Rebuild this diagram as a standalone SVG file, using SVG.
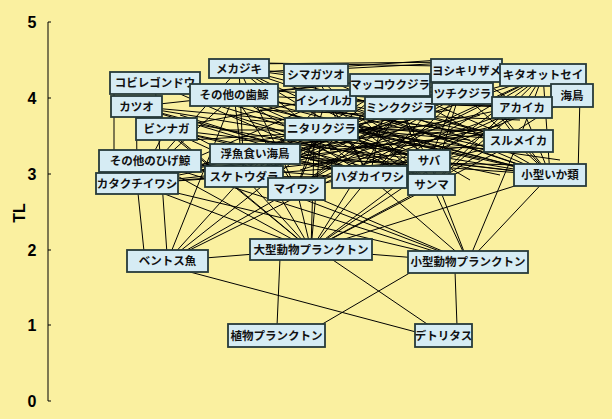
<svg xmlns="http://www.w3.org/2000/svg" width="612" height="419" viewBox="0 0 612 419">
<style>
.bg{fill:#FAF0A0}
.ax{stroke:#000;stroke-width:1;fill:none}
.tk{font-family:"Liberation Sans",Arial,sans-serif;font-weight:bold;font-size:16px;fill:#000;text-anchor:middle}
#edges line{stroke:#000;stroke-width:1}
.node rect{fill:#D6ECF4;stroke:#263a3a;stroke-width:1.8}
.node text{font-family:"Noto Sans CJK JP","Noto Sans",sans-serif;font-weight:bold;font-size:11.5px;fill:#111;text-anchor:middle}
</style>
<rect class="bg" x="0" y="0" width="612" height="419"/>
<g id="axis">
<path class="ax" d="M48,22V401M48,22h3M48,98h3M48,174h3M48,250h3M48,325h3M48,401h3"/>
<text class="tk" x="32" y="28">5</text>
<text class="tk" x="32" y="104">4</text>
<text class="tk" x="32" y="180">3</text>
<text class="tk" x="32" y="256">2</text>
<text class="tk" x="32" y="331">1</text>
<text class="tk" x="32" y="407">0</text>
<text class="tk" transform="translate(25,213) rotate(-90)">TL</text>
</g>
<g id="edges">
<line x1="239" y1="68.5" x2="522" y2="107.5"/>
<line x1="239" y1="68.5" x2="518.5" y2="141"/>
<line x1="239" y1="68.5" x2="550" y2="175"/>
<line x1="239" y1="68.5" x2="429" y2="161"/>
<line x1="239" y1="68.5" x2="431.5" y2="184.5"/>
<line x1="239" y1="68.5" x2="369.5" y2="177"/>
<line x1="239" y1="68.5" x2="296.5" y2="189"/>
<line x1="239" y1="68.5" x2="137" y2="183.5"/>
<line x1="239" y1="68.5" x2="316" y2="75"/>
<line x1="239" y1="68.5" x2="244" y2="176.5"/>
<line x1="466.5" y1="70.5" x2="522" y2="107.5"/>
<line x1="466.5" y1="70.5" x2="518.5" y2="141"/>
<line x1="466.5" y1="70.5" x2="550" y2="175"/>
<line x1="466.5" y1="70.5" x2="429" y2="161"/>
<line x1="466.5" y1="70.5" x2="431.5" y2="184.5"/>
<line x1="466.5" y1="62" x2="316" y2="70"/>
<line x1="466.5" y1="70.5" x2="369.5" y2="177"/>
<line x1="466.5" y1="70.5" x2="296.5" y2="189"/>
<line x1="466.5" y1="70.5" x2="136.5" y2="106.5"/>
<line x1="466.5" y1="70.5" x2="166.5" y2="129"/>
<line x1="466.5" y1="70.5" x2="244" y2="176.5"/>
<line x1="466.5" y1="70.5" x2="234" y2="95"/>
<line x1="466.5" y1="62" x2="239" y2="64"/>
<line x1="500" y1="67" x2="262" y2="63"/>
<line x1="440" y1="60" x2="262" y2="72"/>
<line x1="155" y1="83" x2="522" y2="107.5"/>
<line x1="155" y1="83" x2="518.5" y2="141"/>
<line x1="155" y1="83" x2="550" y2="175"/>
<line x1="155" y1="83" x2="429" y2="161"/>
<line x1="155" y1="83" x2="369.5" y2="177"/>
<line x1="155" y1="83" x2="167.5" y2="261"/>
<line x1="114" y1="83" x2="114" y2="161"/>
<line x1="234" y1="95" x2="522" y2="107.5"/>
<line x1="234" y1="95" x2="518.5" y2="141"/>
<line x1="234" y1="95" x2="550" y2="175"/>
<line x1="234" y1="95" x2="429" y2="161"/>
<line x1="234" y1="95" x2="431.5" y2="184.5"/>
<line x1="234" y1="95" x2="369.5" y2="177"/>
<line x1="234" y1="95" x2="296.5" y2="189"/>
<line x1="234" y1="95" x2="137" y2="183.5"/>
<line x1="234" y1="95" x2="244" y2="176.5"/>
<line x1="234" y1="95" x2="167.5" y2="261"/>
<line x1="390" y1="85" x2="522" y2="107.5"/>
<line x1="390" y1="85" x2="518.5" y2="141"/>
<line x1="390" y1="85" x2="550" y2="175"/>
<line x1="390" y1="85" x2="369.5" y2="177"/>
<line x1="390" y1="85" x2="244" y2="176.5"/>
<line x1="390" y1="85" x2="167.5" y2="261"/>
<line x1="462.5" y1="93.5" x2="522" y2="107.5"/>
<line x1="462.5" y1="93.5" x2="550" y2="175"/>
<line x1="462.5" y1="93.5" x2="369.5" y2="177"/>
<line x1="462.5" y1="93.5" x2="244" y2="176.5"/>
<line x1="462.5" y1="93.5" x2="167.5" y2="261"/>
<line x1="543" y1="75" x2="522" y2="107.5"/>
<line x1="543" y1="75" x2="518.5" y2="141"/>
<line x1="543" y1="75" x2="550" y2="175"/>
<line x1="543" y1="75" x2="429" y2="161"/>
<line x1="543" y1="75" x2="431.5" y2="184.5"/>
<line x1="543" y1="75" x2="369.5" y2="177"/>
<line x1="543" y1="75" x2="296.5" y2="189"/>
<line x1="543" y1="75" x2="137" y2="183.5"/>
<line x1="543" y1="75" x2="244" y2="176.5"/>
<line x1="543" y1="75" x2="167.5" y2="261"/>
<line x1="580" y1="95.5" x2="578" y2="175"/>
<line x1="572" y1="95.5" x2="431.5" y2="184.5"/>
<line x1="572" y1="95.5" x2="369.5" y2="177"/>
<line x1="572" y1="95.5" x2="137" y2="183.5"/>
<line x1="572" y1="95.5" x2="522" y2="107.5"/>
<line x1="316" y1="75" x2="550" y2="175"/>
<line x1="316" y1="75" x2="369.5" y2="177"/>
<line x1="316" y1="75" x2="431.5" y2="184.5"/>
<line x1="316" y1="75" x2="311" y2="249.5"/>
<line x1="326" y1="100.5" x2="522" y2="107.5"/>
<line x1="326" y1="100.5" x2="518.5" y2="141"/>
<line x1="326" y1="100.5" x2="550" y2="175"/>
<line x1="326" y1="100.5" x2="369.5" y2="177"/>
<line x1="326" y1="100.5" x2="431.5" y2="184.5"/>
<line x1="326" y1="100.5" x2="244" y2="176.5"/>
<line x1="326" y1="100.5" x2="296.5" y2="189"/>
<line x1="326" y1="100.5" x2="137" y2="183.5"/>
<line x1="400" y1="108" x2="431.5" y2="184.5"/>
<line x1="400" y1="108" x2="296.5" y2="189"/>
<line x1="400" y1="108" x2="137" y2="183.5"/>
<line x1="400" y1="108" x2="244" y2="176.5"/>
<line x1="400" y1="108" x2="429" y2="161"/>
<line x1="400" y1="108" x2="311" y2="249.5"/>
<line x1="400" y1="108" x2="518.5" y2="141"/>
<line x1="321.5" y1="129" x2="137" y2="183.5"/>
<line x1="321.5" y1="129" x2="296.5" y2="189"/>
<line x1="321.5" y1="129" x2="429" y2="161"/>
<line x1="321.5" y1="129" x2="311" y2="249.5"/>
<line x1="321.5" y1="129" x2="431.5" y2="184.5"/>
<line x1="136.5" y1="106.5" x2="137" y2="183.5"/>
<line x1="136.5" y1="106.5" x2="296.5" y2="189"/>
<line x1="136.5" y1="106.5" x2="431.5" y2="184.5"/>
<line x1="136.5" y1="106.5" x2="550" y2="175"/>
<line x1="136.5" y1="106.5" x2="369.5" y2="177"/>
<line x1="136.5" y1="106.5" x2="311" y2="249.5"/>
<line x1="136.5" y1="106.5" x2="518.5" y2="141"/>
<line x1="166.5" y1="129" x2="550" y2="175"/>
<line x1="166.5" y1="129" x2="431.5" y2="184.5"/>
<line x1="166.5" y1="129" x2="137" y2="183.5"/>
<line x1="166.5" y1="129" x2="296.5" y2="189"/>
<line x1="166.5" y1="129" x2="369.5" y2="177"/>
<line x1="166.5" y1="129" x2="311" y2="249.5"/>
<line x1="522" y1="107.5" x2="369.5" y2="177"/>
<line x1="522" y1="107.5" x2="550" y2="175"/>
<line x1="522" y1="107.5" x2="431.5" y2="184.5"/>
<line x1="522" y1="107.5" x2="311" y2="249.5"/>
<line x1="522" y1="107.5" x2="296.5" y2="189"/>
<line x1="518.5" y1="141" x2="369.5" y2="177"/>
<line x1="518.5" y1="141" x2="550" y2="175"/>
<line x1="518.5" y1="141" x2="137" y2="183.5"/>
<line x1="518.5" y1="141" x2="311" y2="249.5"/>
<line x1="518.5" y1="141" x2="468" y2="262"/>
<line x1="550" y1="175" x2="311" y2="249.5"/>
<line x1="550" y1="175" x2="468" y2="262"/>
<line x1="150" y1="161" x2="311" y2="249.5"/>
<line x1="150" y1="161" x2="468" y2="262"/>
<line x1="150" y1="161" x2="137" y2="183.5"/>
<line x1="150" y1="161" x2="296.5" y2="189"/>
<line x1="150" y1="161" x2="431.5" y2="184.5"/>
<line x1="255" y1="154" x2="137" y2="183.5"/>
<line x1="255" y1="154" x2="296.5" y2="189"/>
<line x1="255" y1="154" x2="431.5" y2="184.5"/>
<line x1="255" y1="154" x2="550" y2="175"/>
<line x1="255" y1="154" x2="369.5" y2="177"/>
<line x1="255" y1="154" x2="311" y2="249.5"/>
<line x1="244" y1="176.5" x2="311" y2="249.5"/>
<line x1="244" y1="176.5" x2="468" y2="262"/>
<line x1="244" y1="176.5" x2="167.5" y2="261"/>
<line x1="244" y1="176.5" x2="369.5" y2="177"/>
<line x1="244" y1="176.5" x2="137" y2="183.5"/>
<line x1="429" y1="161" x2="137" y2="183.5"/>
<line x1="429" y1="161" x2="296.5" y2="189"/>
<line x1="429" y1="161" x2="311" y2="249.5"/>
<line x1="429" y1="161" x2="468" y2="262"/>
<line x1="429" y1="161" x2="550" y2="175"/>
<line x1="431.5" y1="184.5" x2="311" y2="249.5"/>
<line x1="431.5" y1="184.5" x2="468" y2="262"/>
<line x1="369.5" y1="177" x2="311" y2="249.5"/>
<line x1="369.5" y1="177" x2="468" y2="262"/>
<line x1="296.5" y1="189" x2="468" y2="262"/>
<line x1="296.5" y1="189" x2="311" y2="249.5"/>
<line x1="137" y1="183.5" x2="468" y2="262"/>
<line x1="137" y1="183.5" x2="311" y2="249.5"/>
<line x1="137" y1="183.5" x2="145" y2="261"/>
<line x1="167.5" y1="261" x2="311" y2="249.5"/>
<line x1="300" y1="105" x2="500" y2="150"/>
<line x1="290" y1="115" x2="480" y2="160"/>
<line x1="260" y1="110" x2="520" y2="120"/>
<line x1="250" y1="120" x2="470" y2="140"/>
<line x1="220" y1="130" x2="500" y2="130"/>
<line x1="200" y1="125" x2="450" y2="170"/>
<line x1="340" y1="120" x2="530" y2="170"/>
<line x1="350" y1="130" x2="560" y2="160"/>
<line x1="280" y1="140" x2="520" y2="150"/>
<line x1="230" y1="115" x2="420" y2="175"/>
<line x1="300" y1="120" x2="440" y2="150"/>
<line x1="360" y1="115" x2="470" y2="180"/>
<line x1="380" y1="125" x2="250" y2="165"/>
<line x1="410" y1="120" x2="230" y2="160"/>
<line x1="450" y1="110" x2="260" y2="140"/>
<line x1="480" y1="115" x2="300" y2="170"/>
<line x1="500" y1="125" x2="320" y2="165"/>
<line x1="470" y1="130" x2="210" y2="150"/>
<line x1="440" y1="125" x2="190" y2="140"/>
<line x1="420" y1="140" x2="200" y2="170"/>
<line x1="390" y1="140" x2="210" y2="180"/>
<line x1="360" y1="145" x2="500" y2="175"/>
<line x1="330" y1="150" x2="480" y2="135"/>
<line x1="310" y1="160" x2="520" y2="165"/>
<line x1="270" y1="130" x2="350" y2="160"/>
<line x1="240" y1="140" x2="400" y2="150"/>
<line x1="380" y1="100" x2="310" y2="160"/>
<line x1="440" y1="100" x2="330" y2="150"/>
<line x1="200" y1="100" x2="330" y2="140"/>
<line x1="180" y1="115" x2="340" y2="165"/>
<line x1="190" y1="272" x2="416" y2="332"/>
<line x1="311" y1="249.5" x2="468" y2="262"/>
<line x1="280" y1="258" x2="277" y2="326"/>
<line x1="330" y1="258" x2="430" y2="326"/>
<line x1="319" y1="326" x2="413" y2="271"/>
<line x1="455" y1="271" x2="457" y2="326"/>
</g>
<g id="n-kobire" class="node"><rect x="110" y="72" width="90" height="22"/><text x="155" y="87">コビレゴンドウ</text></g>
<g id="n-hakujira" class="node"><rect x="190" y="84" width="88" height="22"/><text x="234" y="99">その他の歯鯨</text></g>
<g id="n-mekajiki" class="node"><rect x="209" y="59" width="60" height="19"/><text x="239" y="72.5">メカジキ</text></g>
<g id="n-katsuo" class="node"><rect x="111" y="96" width="51" height="21"/><text x="136.5" y="110.5">カツオ</text></g>
<g id="n-binnaga" class="node"><rect x="136" y="118" width="61" height="22"/><text x="166.5" y="133">ビンナガ</text></g>
<g id="n-shimagatsuo" class="node"><rect x="284" y="64" width="64" height="22"/><text x="316" y="79">シマガツオ</text></g>
<g id="n-ishiiruka" class="node"><rect x="296" y="90" width="60" height="21"/><text x="324" y="104.5">イシイルカ</text></g>
<g id="n-makkou" class="node"><rect x="350" y="74" width="80" height="22"/><text x="390" y="89">マッコウクジラ</text></g>
<g id="n-minku" class="node"><rect x="365" y="97" width="70" height="22"/><text x="400" y="112">ミンククジラ</text></g>
<g id="n-nitari" class="node"><rect x="285" y="118" width="73" height="22"/><text x="321.5" y="133">ニタリクジラ</text></g>
<g id="n-yoshikiri" class="node"><rect x="431" y="59" width="71" height="23"/><text x="466.5" y="74.5">ヨシキリザメ</text></g>
<g id="n-tsuchi" class="node"><rect x="432" y="83" width="61" height="21"/><text x="462.5" y="97.5">ツチクジラ</text></g>
<g id="n-kitaottosei" class="node"><rect x="500" y="64" width="86" height="22"/><text x="543" y="79">キタオットセイ</text></g>
<g id="n-umidori" class="node"><rect x="551" y="84" width="42" height="23"/><text x="572" y="99.5">海鳥</text></g>
<g id="n-akaika" class="node"><rect x="492" y="97" width="60" height="21"/><text x="522" y="111.5">アカイカ</text></g>
<g id="n-surumeika" class="node"><rect x="484" y="130" width="69" height="22"/><text x="518.5" y="145">スルメイカ</text></g>
<g id="n-kogataika" class="node"><rect x="514" y="164" width="72" height="22"/><text x="550" y="179">小型いか類</text></g>
<g id="n-higekujira" class="node"><rect x="99" y="150" width="102" height="22"/><text x="150" y="165">その他のひげ鯨</text></g>
<g id="n-katakuchi" class="node"><rect x="96" y="173" width="82" height="21"/><text x="137" y="187.5">カタクチイワシ</text></g>
<g id="n-ukiuodori" class="node"><rect x="210" y="144" width="90" height="20"/><text x="255" y="158">浮魚食い海鳥</text></g>
<g id="n-suketoudara" class="node"><rect x="205" y="166" width="78" height="21"/><text x="244" y="180.5">スケトウダラ</text></g>
<g id="n-maiwashi" class="node"><rect x="268" y="178" width="57" height="22"/><text x="296.5" y="193">マイワシ</text></g>
<g id="n-hadaka" class="node"><rect x="332" y="166" width="75" height="22"/><text x="369.5" y="181">ハダカイワシ</text></g>
<g id="n-saba" class="node"><rect x="408" y="150" width="42" height="22"/><text x="429" y="165">サバ</text></g>
<g id="n-sanma" class="node"><rect x="408" y="174" width="47" height="21"/><text x="431.5" y="188.5">サンマ</text></g>
<g id="n-benthos" class="node"><rect x="127" y="250" width="81" height="22"/><text x="167.5" y="265">ベントス魚</text></g>
<g id="n-oogata" class="node"><rect x="250" y="239" width="122" height="21"/><text x="311" y="253.5">大型動物プランクトン</text></g>
<g id="n-kogata" class="node"><rect x="408" y="251" width="120" height="22"/><text x="468" y="266">小型動物プランクトン</text></g>
<g id="n-shokubutsu" class="node"><rect x="228" y="324" width="97" height="23"/><text x="276.5" y="339.5">植物プランクトン</text></g>
<g id="n-detritus" class="node"><rect x="415" y="324" width="57" height="23"/><text x="443.5" y="339.5">デトリタス</text></g>
</svg>
